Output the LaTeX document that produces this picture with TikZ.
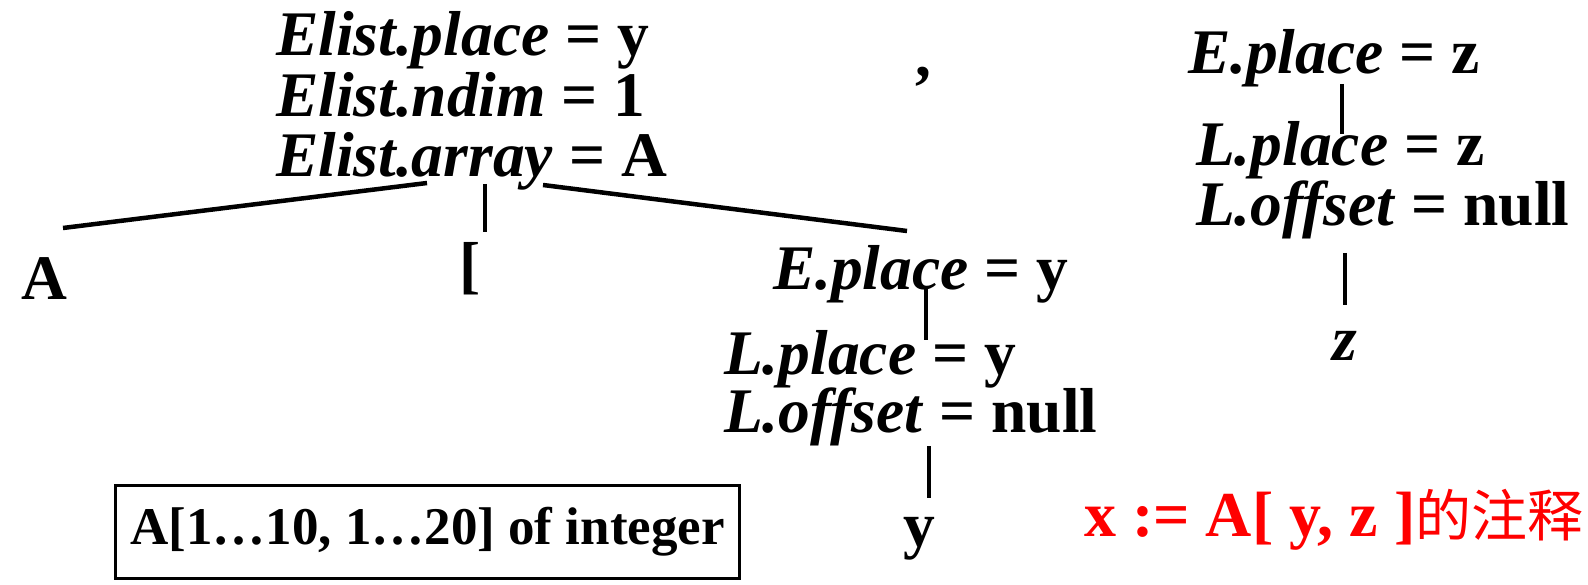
\documentclass[tikz,border=0pt]{standalone}
\usepackage{fontspec}
\setmainfont{Liberation Serif}
\newfontfamily\cjk{Noto Sans CJK SC}
\begin{document}
\begin{tikzpicture}[x=1pt,y=-1pt,
  lbl/.style={inner sep=0pt, outer sep=0pt, font=\fontsize{63.5pt}{63.5pt}\selectfont\bfseries, anchor=base west},
  edge/.style={line width=4.5pt},
  declbox/.style={draw, line width=3pt, inner sep=0pt, minimum width=624pt, minimum height=93pt, font=\fontsize{53pt}{53pt}\selectfont\bfseries}]
\useasboundingbox (0,0) rectangle (1588,585);
% Elist attributes
\node[lbl] (el1) at (276,56) {\textit{Elist.place} = y};
\node[lbl] (el2) at (276,117) {\textit{Elist.ndim} = 1};
\node[lbl] (el3) at (276,177) {\textit{Elist.array} = A};
% children
\node[lbl] (leafA) at (21,300) {A};
\node[lbl] (lbr) at (459,287) {[};
\node[lbl] (comma) at (915,77) {,};
% E -> L -> y
\node[lbl] (ey1) at (773,290) {\textit{E.place} = y};
\node[lbl] (ly1) at (724,374) {\textit{L.place} = y};
\node[lbl] (ly2) at (724,432) {\textit{L.offset} = null};
\node[lbl, anchor=base] (leafy) at (919,546) {y};
% E -> L -> z
\node[lbl] (ez1) at (1188,74) {\textit{E.place} = z};
\node[lbl] (lz1) at (1196,166) {\textit{L.place} = z};
\node[lbl] (lz2) at (1196,226) {\textit{L.offset} = null};
\node[lbl, anchor=base] (leafz) at (1345,360) {\textit{z}};
% declaration box and caption
\node[declbox] (decl) at (427.5,532) {A[1…10, 1…20] of integer};
\node[lbl, text=red, font=\fontsize{64pt}{64pt}\selectfont\bfseries] (title) at (1084,536) {x := A[ y, z ]{\cjk\mdseries\fontsize{56pt}{56pt}\selectfont 的注释}};
% connector end points
\coordinate (a1) at (427,183); \coordinate (a2) at (63,228);
\coordinate (b1) at (485,184); \coordinate (b2) at (485,232);
\coordinate (c1) at (543,185); \coordinate (c2) at (907,231);
\coordinate (d1) at (926,289); \coordinate (d2) at (926,340);
\coordinate (e1) at (929,446); \coordinate (e2) at (929,498);
\coordinate (f1) at (1342,84); \coordinate (f2) at (1342,134);
\coordinate (g1) at (1345,253); \coordinate (g2) at (1345,305);
\draw[edge] (a1) -- (a2);
\draw[edge] (b1) -- (b2);
\draw[edge] (c1) -- (c2);
\draw[edge] (d1) -- (d2);
\draw[edge] (e1) -- (e2);
\draw[edge] (f1) -- (f2);
\draw[edge] (g1) -- (g2);
\end{tikzpicture}
\end{document}
